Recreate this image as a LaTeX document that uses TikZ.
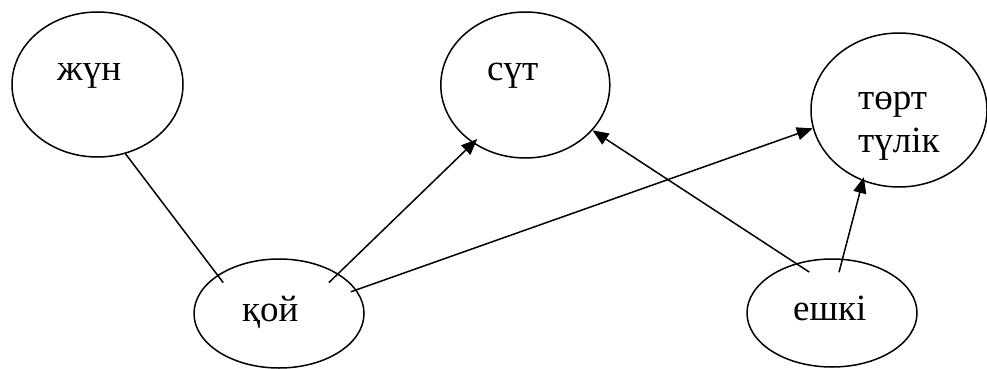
\documentclass[tikz,border=0pt]{standalone}
\usepackage{fontspec}
\setmainfont{Liberation Serif}
\usetikzlibrary{shapes.geometric,arrows.meta}
\tikzset{
  oval/.style={ellipse, draw, line width=1.5pt, inner sep=0pt},
  word/.style={inner sep=0pt, anchor=base west, font=\fontsize{37}{43}\selectfont},
  link/.style={line width=1.5pt},
  arr/.style={line width=1.5pt, -{Triangle[length=16pt,width=13pt]}}
}
\begin{document}
\begin{tikzpicture}[x=1pt,y=-1pt]
\useasboundingbox (0,0) rectangle (987,369);
% ellipses
\node[oval, minimum width=171pt, minimum height=145pt] (jun) at (97.5,84.5) {};
\node[oval, minimum width=169pt, minimum height=146pt] (sut) at (525.3,85) {};
\node[oval, minimum width=176pt, minimum height=154pt] (tort) at (899,110) {};
\node[oval, minimum width=170pt, minimum height=109pt] (koi) at (279,313.5) {};
\node[oval, minimum width=170pt, minimum height=108pt] (eshki) at (832,313) {};
% texts
\node[word] (junt) at (57,80) {жүн};
\node[word] (sutt) at (487,80) {сүт};
\node[word] (tortt1) at (858,109) {төрт};
\node[word] (tortt2) at (858,152) {түлік};
\node[word] (koit) at (242,321) {қой};
\node[word] (eshkit) at (793,320) {ешкі};
% connectors
\draw[link, shorten >=-9.5pt] (jun.-68) -- (koi.148);
\draw[arr, shorten <=-13pt, shorten >=-6pt] (koi.34) -- (sut.-132);
\draw[arr, shorten <=-6pt] (koi.17) -- (tort.192);
\draw[arr, shorten <=-16pt] (eshki.126) -- (sut.-34);
\draw[arr, shorten <=-14pt, shorten >=-4pt] (eshki.79) -- (tort.-117);
\end{tikzpicture}
\end{document}
